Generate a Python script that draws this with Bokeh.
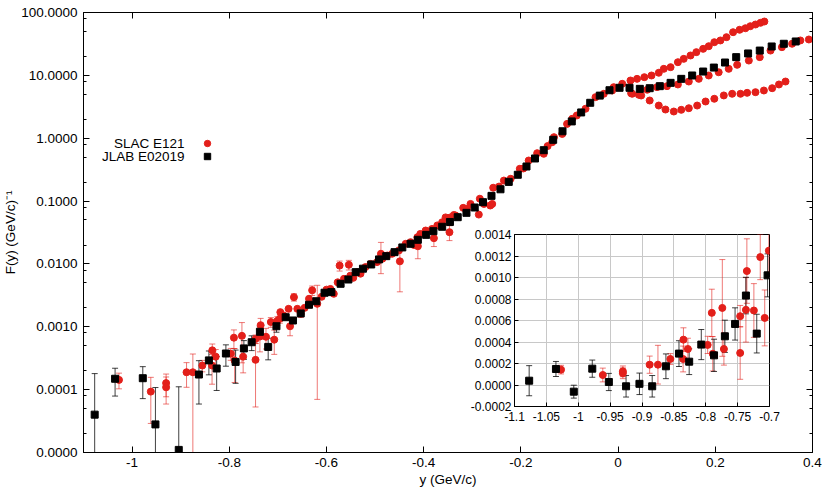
import numpy as np
from bokeh.plotting import figure
from bokeh.models import (ColumnDataSource, Whisker, TeeHead, FixedTicker, PrintfTickFormatter,
                          LinearAxis, LogAxis, Range1d, Label, Legend, LegendItem)
from bokeh.embed import file_html
from bokeh.resources import INLINE

FONT = "Liberation Sans"
RED = "#e31f1a"
BLACK = "#000000"
MAIN_FS = "13.5px"

# ---------------- SLAC E121 (red circles) ----------------
# low-y tail (also shown in the inset)
slac_low_y = [-1.027, -0.9615, -0.930, -0.930, -0.888, -0.875, -0.8555, -0.835, -0.8355, -0.828,
              -0.797, -0.7905, -0.789, -0.774, -0.7715, -0.746, -0.746, -0.737, -0.7355, -0.7245,
              -0.7145, -0.7075, -0.701]
slac_low_f = [1.43e-4, 9.3e-5, 1.27e-4, 1.09e-4, 1.89e-4, 1.89e-4, 2.42e-4, 4.22e-4, 2.42e-4, 3.35e-4,
              3.73e-4, 6.71e-4, 2.9e-4, 7.17e-4, 3.35e-4, 2.98e-4, 6.4e-4, 6.99e-4, 1.06e-3, 6.93e-4,
              1.19e-3, 6.24e-4, 1.25e-3]
slac_low_e = [4e-5, 6.4e-5, 5e-5, 5e-5, 8e-5, 1.8e-4, 5e-5, 1.1e-4, 1.2e-4, 1e-4,
              8e-5, 2.2e-4, 1.6e-4, 4.5e-4, 1.5e-4, 2.45e-4, 1e-4, 3e-4, 3e-4, 2.5e-4,
              2.1e-4, 2.6e-4, 2e-4]

# main band up to y = 0
slac_band_y = [-0.696, -0.695, -0.688, -0.678, -0.675, -0.667, -0.660, -0.653, -0.645, -0.636,
               -0.6295, -0.619, -0.610, -0.600, -0.592, -0.585, -0.577, -0.573, -0.564, -0.554,
               -0.551, -0.545, -0.537, -0.530, -0.520, -0.5095, -0.496, -0.488, -0.485, -0.475,
               -0.465, -0.451, -0.449, -0.437, -0.427, -0.420, -0.413, -0.412, -0.407, -0.396,
               -0.383, -0.379, -0.372, -0.362, -0.355, -0.347, -0.345, -0.338, -0.3346, -0.3187,
               -0.311, -0.3037, -0.2866, -0.2845, -0.276, -0.263, -0.259, -0.257, -0.245, -0.235,
               -0.221, -0.2023, -0.195, -0.184, -0.1665, -0.153, -0.145, -0.1356, -0.132, -0.115,
               -0.105, -0.0944, -0.085, -0.067, -0.0465, -0.0294, -0.0122, -0.009]
slac_band_f = [1.34e-3, 1.71e-3, 1.51e-3, 1.93e-3, 1.02e-3, 2.96e-3, 1.93e-3, 1.61e-3, 2.0e-3, 2.79e-3,
               3.8e-3, 2.32e-3, 3.0e-3, 3.9e-3, 4.0e-3, 3.35e-3, 5.1e-3, 9.4e-3, 5.8e-3, 9.7e-3,
               6.5e-3, 6.0e-3, 7.4e-3, 7.0e-3, 8.9e-3, 1.0e-2, 1.07e-2, 1.45e-2, 1.21e-2, 1.36e-2,
               1.45e-2, 1.64e-2, 1.1e-2, 2.09e-2, 2.22e-2, 2.0e-2, 2.66e-2, 1.91e-2, 3.0e-2, 3.4e-2,
               3.6e-2, 2.57e-2, 4.1e-2, 4.6e-2, 5.5e-2, 3.2e-2, 5.5e-2, 6.0e-2, 5.9e-2, 7.8e-2,
               7.5e-2, 9.0e-2, 6.1e-2, 0.109, 9.0e-2, 8.5e-2, 9.0e-2, 0.163, 0.17, 0.212,
               0.226, 0.326, 0.33, 0.442, 0.578, 0.565, 0.75, 0.865, 1.04, 1.17,
               1.69, 2.04, 2.3, 2.94, 4.5, 5.09, 5.74, 6.49]
slac_band_e = [2e-4, 0, 0, 0, 3e-4, 4e-4, 0, 2e-4, 0, 0,
               6.5e-4, 2.25e-3, 0, 0, 0, 0, 0, 1.7e-3, 0, 1.7e-3,
               0, 0, 0, 0, 0, 0, 0, 7.5e-3, 0, 0,
               0, 0, 7.4e-3, 0, 0, 0, 0, 7e-3, 0, 0,
               0, 6.8e-3, 0, 0, 0, 8.5e-3, 0, 0, 0, 0,
               0, 0, 0, 0, 0, 0, 0, 0, 0, 0,
               0, 0, 0, 0, 0, 0, 0, 0, 0, 0,
               0, 0, 0, 0, 0, 0, 0, 0]

# three kinematic branches for y > 0
slac_up_y = [0.0085, 0.0255, 0.039, 0.054, 0.0687, 0.0837, 0.094, 0.108, 0.123, 0.135, 0.149, 0.161,
             0.175, 0.1865, 0.198, 0.2105, 0.223, 0.2366, 0.250, 0.262, 0.272, 0.2827, 0.293, 0.301]
slac_up_f = [7.34, 8.28, 8.8, 9.35, 9.95, 11.0, 12.7, 13.5, 16.2, 18.3, 20.7, 23.4,
             26.4, 29.1, 33.7, 35.9, 40.5, 48.6, 53.1, 56.2, 60.5, 64.4, 68.5, 71.9]
slac_mid_y = [0.029, 0.0427, 0.060, 0.080, 0.1006, 0.123, 0.1455, 0.166, 0.1865, 0.207,
              0.2276, 0.245, 0.269, 0.2915, 0.3136, 0.337, 0.358, 0.375, 0.3925]
slac_mid_f = [5.09, 4.9, 5.9, 6.49, 6.73, 7.16, 7.98, 8.8, 9.95, 11.2,
              12.7, 14.7, 17.2, 19.5, 24.8, 28.1, 31.8, 35.9, 37.2]
slac_lo_y = [0.0268, 0.0475, 0.065, 0.0837, 0.0975, 0.1146, 0.130, 0.1455, 0.1627, 0.180,
             0.198, 0.2175, 0.2347, 0.2518, 0.2655, 0.2827, 0.300, 0.317, 0.331, 0.3445]
slac_lo_f = [5.2, 4.78, 3.98, 3.31, 2.86, 2.66, 2.83, 3.0, 3.31, 3.84,
             4.24, 4.79, 5.09, 5.09, 5.27, 5.4, 5.74, 6.25, 7.16, 7.98]

# ---------------- JLAB E02019 (black squares) ----------------
jlab_y = [-1.077, -1.035, -1.007, -0.978, -0.952, -0.925, -0.904, -0.884, -0.8625, -0.842,
          -0.826, -0.807, -0.787, -0.770, -0.754, -0.737, -0.720, -0.703,
          -0.684, -0.669, -0.653, -0.636, -0.621, -0.604, -0.590, -0.571, -0.555, -0.540,
          -0.525, -0.508, -0.492, -0.477, -0.460, -0.444, -0.427, -0.412, -0.395, -0.380,
          -0.362, -0.346, -0.330, -0.312, -0.295, -0.278, -0.2605, -0.242, -0.225, -0.2064,
          -0.1885, -0.171, -0.153, -0.1336, -0.1144, -0.0953, -0.076, -0.0574, -0.0377, -0.0177,
          0.003, 0.0235, 0.0447, 0.065, 0.0858, 0.108, 0.130, 0.1524, 0.175, 0.197,
          0.220, 0.243, 0.2675, 0.2915, 0.316, 0.341, 0.3655]
jlab_f = [4.0e-5, 1.49e-4, -6.2e-5, 1.52e-4, 2.8e-5, -1.2e-5, 1.1e-5, -1.2e-5, 1.74e-4, 2.92e-4,
          2.17e-4, 3.76e-4, 2.76e-4, 4.53e-4, 5.68e-4, 8.32e-4, 4.78e-4, 1.02e-3,
          1.42e-3, 1.26e-3, 1.63e-3, 2.24e-3, 2.55e-3, 3.48e-3, 3.56e-3, 4.83e-3, 5.65e-3, 7.4e-3,
          8.4e-3, 9.8e-3, 1.18e-2, 1.33e-2, 1.54e-2, 1.83e-2, 2.09e-2, 2.42e-2, 2.9e-2, 3.32e-2,
          3.9e-2, 4.65e-2, 5.54e-2, 6.5e-2, 7.9e-2, 9.6e-2, 0.121, 0.154, 0.202, 0.262,
          0.355, 0.476, 0.645, 0.943, 1.29, 1.85, 2.57, 3.66, 4.76, 5.8,
          6.34, 6.34, 6.1, 6.25, 6.73, 7.6, 8.8, 9.95, 11.5, 13.3,
          16.0, 19.5, 22.3, 24.8, 28.8, 31.8, 34.6]
jlab_e = [1.4e-4, 7e-5, 6e-5, 8e-5, 8e-5, 1e-4, 1e-4, 1e-4, 1.15e-4, 1.2e-4,
          1.2e-4, 1.4e-4, 1.5e-4, 1.5e-4, 1.5e-4, 1.7e-4, 1.8e-4, 2e-4] + [0] * 57

# ---------------- axes ----------------
x_ticks = [-1.0, -0.8, -0.6, -0.4, -0.2, 0.0, 0.2, 0.4]
y_ticks = [1e-5, 1e-4, 1e-3, 1e-2, 1e-1, 1.0, 10.0, 100.0]
y_minor = [m * 10.0 ** k for k in range(-5, 2) for m in (2, 5, 8)]
inset_x_ticks = [-1.1, -1.05, -1.0, -0.95, -0.9, -0.85, -0.8, -0.75, -0.7]
inset_y_ticks = [-0.0002, 0.0, 0.0002, 0.0004, 0.0006, 0.0008, 0.0010, 0.0012, 0.0014]

sy = np.array(slac_low_y + slac_band_y + slac_up_y + slac_mid_y + slac_lo_y)
sf = np.array(slac_low_f + slac_band_f + slac_up_f + slac_mid_f + slac_lo_f)
se = np.array(slac_low_e + slac_band_e + [0.0] * (len(slac_up_y) + len(slac_mid_y) + len(slac_lo_y)))
jy = np.array(jlab_y)
jf = np.array(jlab_f)
je = np.array(jlab_e, dtype=float)

YMIN = 1e-5


def style_axis(ax, size=MAIN_FS, tick_in=6, minor_in=3):
    ax.major_tick_in = tick_in
    ax.major_tick_out = 0
    ax.minor_tick_in = minor_in
    ax.minor_tick_out = 0
    ax.axis_line_color = BLACK
    ax.major_tick_line_color = BLACK
    ax.minor_tick_line_color = BLACK
    ax.major_label_text_font = FONT
    ax.major_label_text_font_size = size
    ax.major_label_text_color = BLACK
    ax.axis_label_text_font = FONT
    ax.axis_label_text_font_size = size
    ax.axis_label_text_font_style = "normal"
    ax.axis_label_text_color = BLACK


def hide_labels(ax):
    ax.major_label_text_color = None
    ax.major_label_text_font_size = "1px"
    ax.major_label_standoff = 0


def whisker(src, color, alpha, level="underlay"):
    return Whisker(source=src, base="x", lower="lo", upper="hi", dimension="height",
                   line_color=color, line_alpha=alpha, line_width=1, level=level,
                   upper_head=TeeHead(size=6, line_color=color, line_alpha=alpha, line_width=1),
                   lower_head=TeeHead(size=6, line_color=color, line_alpha=alpha, line_width=1))


# ================= main figure =================
p = figure(width=830, height=497, x_range=Range1d(-1.1, 0.4), y_range=Range1d(YMIN, 100.0),
           y_axis_type="log", output_backend="svg", toolbar_location=None,
           min_border_left=83, min_border_right=18, min_border_top=12, min_border_bottom=45)
p.xgrid.visible = False
p.ygrid.visible = False
p.outline_line_color = BLACK
p.background_fill_color = "white"

xt = FixedTicker(ticks=x_ticks)
yt = FixedTicker(ticks=y_ticks, minor_ticks=y_minor)

xa = p.xaxis[0]
xa.ticker = xt
xa.formatter = PrintfTickFormatter(format="%g")
style_axis(xa)
xa.major_label_standoff = 5
xa.axis_label = "y (GeV/c)"
xa.axis_label_standoff = 2

ya = p.yaxis[0]
ya.ticker = yt
ya.formatter = PrintfTickFormatter(format="%.4f")
style_axis(ya)
ya.major_label_standoff = 6
ya.axis_label = "F(y) (GeV/c)\u207b\u00b9"
ya.axis_label_standoff = 0

top = LinearAxis(ticker=FixedTicker(ticks=x_ticks))
style_axis(top)
hide_labels(top)
p.add_layout(top, "above")
right = LogAxis(ticker=FixedTicker(ticks=y_ticks, minor_ticks=y_minor))
style_axis(right)
hide_labels(right)
p.add_layout(right, "right")

# error bars (main, log scale: lower ends clipped at the axis floor)
ms = se > 0
p.add_layout(whisker(ColumnDataSource(dict(x=sy[ms], lo=np.maximum(sf[ms] - se[ms], YMIN),
                                           hi=sf[ms] + se[ms])), RED, 0.6))
mj = (je > 0) & (jf > 0)
p.add_layout(whisker(ColumnDataSource(dict(x=jy[mj], lo=np.maximum(jf[mj] - je[mj], YMIN),
                                           hi=jf[mj] + je[mj])), BLACK, 0.75))

r_s = p.scatter(x=sy, y=sf, marker="circle", size=7, fill_color=RED, line_color=RED)
pos = jf > 0
r_j = p.scatter(x=jy[pos], y=jf[pos], marker="square", size=7, fill_color=BLACK, line_color=BLACK)

# legend: gnuplot style, text on the left, symbol on the right
for rend, txt, ly in ((r_s, "SLAC E121", 301), (r_j, "JLAB E02019", 288)):
    p.add_layout(Legend(items=[LegendItem(label=" ", renderers=[rend])], location=(116, ly),
                        border_line_color=None, background_fill_alpha=0, padding=0, margin=0,
                        spacing=0, glyph_width=16, glyph_height=16, label_standoff=0,
                        label_width=1, label_height=16, label_text_font_size="1px"))
    p.add_layout(Label(x=101, y=ly + 8, x_units="screen", y_units="screen", text=txt,
                       text_align="right", text_baseline="middle", text_font=FONT,
                       text_font_size=MAIN_FS, text_color=BLACK))

# ================= inset =================
q = figure(width=314, height=200, x_range=Range1d(-1.1, -0.7), y_range=Range1d(-0.0002, 0.0014),
           output_backend="svg", toolbar_location=None,
           min_border_left=45, min_border_right=12, min_border_top=8, min_border_bottom=20)
q.background_fill_color = "white"
q.border_fill_color = None
q.outline_line_color = BLACK
ixt = FixedTicker(ticks=inset_x_ticks)
iyt = FixedTicker(ticks=inset_y_ticks)
q.xaxis[0].ticker = ixt
q.yaxis[0].ticker = iyt
q.xgrid[0].ticker = ixt
q.ygrid[0].ticker = iyt
q.grid.grid_line_color = "#c8c8c8"
q.grid.grid_line_width = 1
q.xaxis[0].formatter = PrintfTickFormatter(format="%g")
q.yaxis[0].formatter = PrintfTickFormatter(format="%.4f")
for ax in (q.xaxis[0], q.yaxis[0]):
    style_axis(ax, size="12px", tick_in=4, minor_in=0)
q.xaxis[0].major_label_standoff = 5
q.yaxis[0].major_label_standoff = 3

ins_s = sy <= -0.7
ins_j = jy <= -0.7
m2 = ins_s & (se > 0)
q.add_layout(whisker(ColumnDataSource(dict(x=sy[m2], lo=sf[m2] - se[m2], hi=sf[m2] + se[m2])), RED, 0.6))
m3 = ins_j & (je > 0)
q.add_layout(whisker(ColumnDataSource(dict(x=jy[m3], lo=jf[m3] - je[m3], hi=jf[m3] + je[m3])), BLACK, 0.75))
q.scatter(x=sy[ins_s], y=sf[ins_s], marker="circle", size=7, fill_color=RED, line_color=RED)
q.scatter(x=jy[ins_j], y=jf[ins_j], marker="square", size=7, fill_color=BLACK, line_color=BLACK)

# the inset is laid over the main plot (page coordinates)
q.styles = {"position": "absolute", "left": "467px", "top": "226px", "z-index": "5"}

roots = [p, q]
open("out.html", "w").write(file_html(roots, INLINE))
